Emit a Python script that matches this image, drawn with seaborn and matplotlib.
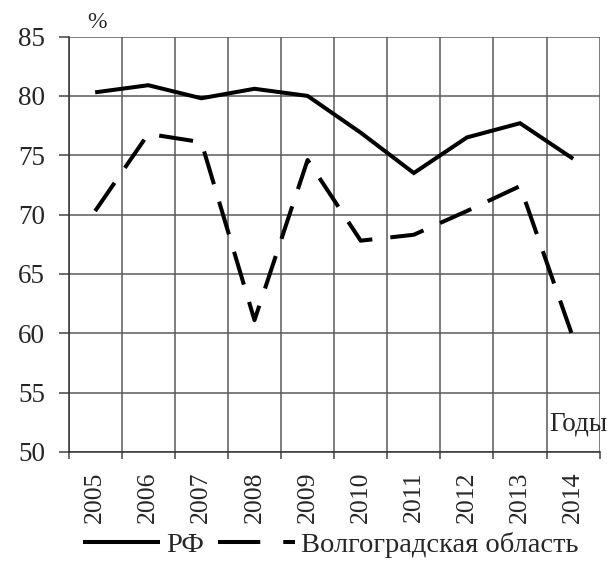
import matplotlib
matplotlib.use("Agg")
import matplotlib.pyplot as plt
from matplotlib.lines import Line2D
from matplotlib.ticker import FixedLocator
import pandas as pd
import seaborn as sns

years = ["2005", "2006", "2007", "2008", "2009", "2010", "2011", "2012", "2013", "2014"]
rf_values = [80.3, 80.9, 79.8, 80.6, 80.0, 76.9, 73.5, 76.5, 77.7, 74.7]
volgograd_values = [70.3, 76.8, 76.1, 61.1, 74.6, 67.8, 68.3, 70.3, 72.4, 59.6]
series_names = ["РФ", "Волгоградская область"]
y_ticks = [50, 55, 60, 65, 70, 75, 80, 85]

sns.set_theme(style="white")
plt.rcParams["font.family"] = ["Liberation Serif", "DejaVu Serif"]

df = pd.DataFrame({
    "pos": list(range(len(years))) * 2,
    "value": rf_values + volgograd_values,
    "series": [series_names[0]] * len(years) + [series_names[1]] * len(years),
})

fig = plt.figure(figsize=(6.07, 5.67), dpi=100)
ax = fig.add_axes([0.113, 0.203, 0.875, 0.7325])

lw = 2.9
dash = (8.5, 4.5)
sns.lineplot(data=df[df["series"] == series_names[0]], x="pos", y="value",
             color="black", linewidth=lw, ax=ax, legend=False)
sns.lineplot(data=df[df["series"] == series_names[1]], x="pos", y="value",
             color="black", linewidth=lw, ax=ax, legend=False)
ax.lines[1].set_dashes(dash)
for ln in ax.lines:
    ln.set_solid_capstyle("butt")
    ln.set_dash_capstyle("butt")
    ln.set_solid_joinstyle("miter")

ax.set_xlim(-0.5, len(years) - 0.5)
ax.set_ylim(50, 85)
ax.set_yticks(y_ticks)
ax.set_yticklabels([str(t) for t in y_ticks], fontsize=19.5)

ax.set_xticks(range(len(years)))
ax.set_xticklabels(years, rotation=90, fontsize=18.5)
ax.xaxis.set_minor_locator(FixedLocator([i - 0.5 for i in range(len(years) + 1)]))
ax.tick_params(axis="x", which="major", length=0, pad=14)
ax.tick_params(axis="x", which="minor", length=5, width=1.1, color="#444444", bottom=True)
ax.tick_params(axis="y", which="major", length=7, width=1.1, color="#444444", left=True, pad=10)

ax.grid(False)
ax.yaxis.grid(True, color="#5a5a5a", linewidth=1.1)
ax.xaxis.grid(True, which="minor", color="#5a5a5a", linewidth=1.1)
ax.set_axisbelow(True)
for side in ["top", "right"]:
    ax.spines[side].set_visible(False)
for side in ["left", "bottom"]:
    ax.spines[side].set_color("#333333")
    ax.spines[side].set_linewidth(1.1)

ax.set_xlabel("")
ax.set_ylabel("")

fig.text(0.16, 0.96, "%", fontsize=17, ha="center", va="center")
ax.text(1.015, 0.068, "Годы", transform=ax.transAxes, fontsize=19.5, ha="right", va="center")

legend_dash = (10.5, 5.7)
handles = [
    Line2D([], [], color="black", linewidth=lw, solid_capstyle="butt"),
    Line2D([], [], color="black", linewidth=lw, dashes=legend_dash, dash_capstyle="butt"),
]
fig.legend(handles, series_names, loc="center", bbox_to_anchor=(0.545, 0.038), ncol=2,
           frameon=False, fontsize=20.5, handlelength=2.7, handletextpad=0.2,
           columnspacing=0.5)

fig.savefig("out.png", dpi=100)
